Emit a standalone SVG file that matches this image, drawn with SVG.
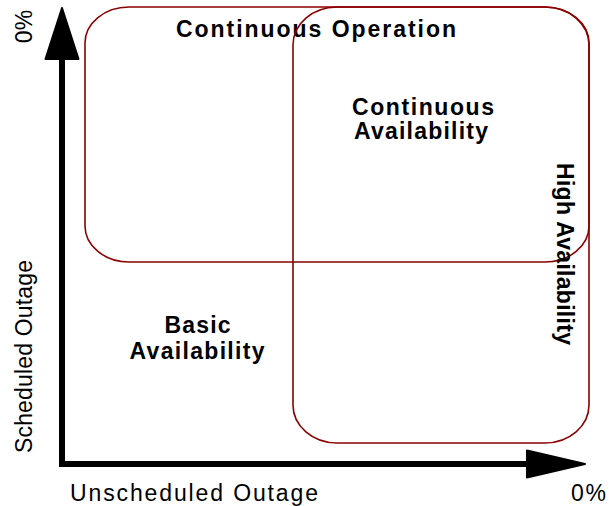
<svg xmlns="http://www.w3.org/2000/svg" width="612" height="506" viewBox="0 0 612 506">
  <style>
    .region { fill: none; stroke: #8B0000; stroke-width: 1.6; }
    .axis { fill: none; stroke: #000; stroke-width: 6; stroke-linejoin: miter; }
    .head { fill: #000; stroke: #000; stroke-width: 2; stroke-linejoin: round; }
    .lbl { font-family: "Liberation Sans", Arial, sans-serif; font-size: 23px; font-weight: bold; fill: #000; text-anchor: middle; }
    .ax { font-family: "Liberation Sans", Arial, sans-serif; font-size: 23px; fill: #000; }
  </style>
  <rect width="612" height="506" fill="#fff"/>
  <g id="connectors">
    <polyline class="axis" points="62,58 62,464 528,464"/>
    <polygon class="head" points="62,8 45.5,59 78.5,59"/>
    <polygon class="head" points="585,464 527,450.5 527,477.5"/>
  </g>
  <g id="continuous-operation">
    <rect class="region" x="85" y="7" width="504" height="255" rx="44" ry="36"/>
    <text class="lbl" x="316" y="37" textLength="280" lengthAdjust="spacing">Continuous Operation</text>
  </g>
  <g id="high-availability">
    <rect class="region" x="293" y="7" width="296" height="436" rx="44" ry="38"/>
    <text class="lbl" transform="translate(557,254) rotate(90)" x="0" y="0" textLength="182" lengthAdjust="spacing">High Availability</text>
  </g>
  <g id="continuous-availability">
    <text class="lbl" x="423" y="115" textLength="142" lengthAdjust="spacing">Continuous</text>
    <text class="lbl" x="421" y="139" textLength="134" lengthAdjust="spacing">Availability</text>
  </g>
  <g id="basic-availability">
    <text class="lbl" x="197.5" y="333" textLength="66" lengthAdjust="spacing">Basic</text>
    <text class="lbl" x="197" y="359" textLength="135" lengthAdjust="spacing">Availability</text>
  </g>
  <g id="axis-labels">
    <text class="ax" transform="translate(32,26.5) rotate(-90)" text-anchor="middle" x="0" y="0">0%</text>
    <text class="ax" transform="translate(32,356.5) rotate(-90)" text-anchor="middle" x="0" y="0" textLength="193" lengthAdjust="spacing">Scheduled Outage</text>
    <text class="ax" x="70" y="501" textLength="248" lengthAdjust="spacing">Unscheduled Outage</text>
    <text class="ax" x="571" y="501" textLength="35" lengthAdjust="spacing">0%</text>
  </g>
</svg>
